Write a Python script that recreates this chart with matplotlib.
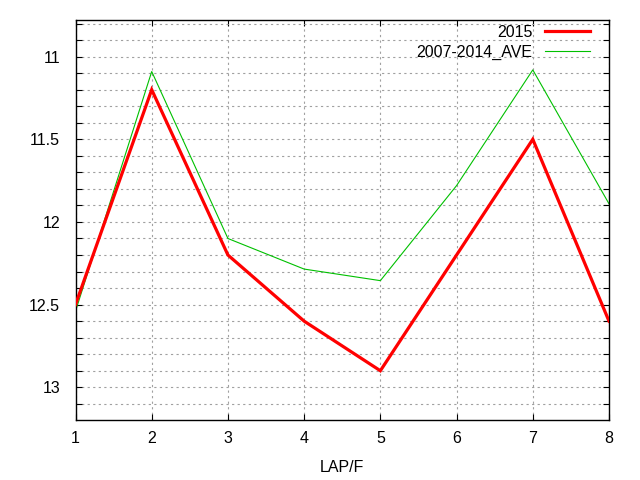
import matplotlib
matplotlib.use("Agg")
import matplotlib.pyplot as plt
from matplotlib.ticker import MultipleLocator, FormatStrFormatter

laps = [1, 2, 3, 4, 5, 6, 7, 8]
y2015 = [12.5, 11.2, 12.2, 12.6, 12.9, 12.2, 11.5, 12.6]
yave = [12.54, 11.09, 12.1, 12.285, 12.355, 11.78, 11.08, 11.89]
labels = ["2015", "2007-2014_AVE"]

plt.rcParams['font.family'] = ['Liberation Sans', 'DejaVu Sans']
FS = 11.5

fig = plt.figure(figsize=(6.4, 4.8), dpi=100)
ax = fig.add_axes([75.5/640, 1-419.5/480, (609-75.5)/640, (419.5-20.3)/480])

ax.plot(laps, y2015, color="#ff0000", lw=2.3, label=labels[0], solid_joinstyle="miter", zorder=3)
ax.plot(laps, yave, color="#00c000", lw=0.8, label=labels[1], zorder=2)

ax.set_xlim(1, 8)
ax.set_ylim(13.195, 10.78)
ax.xaxis.set_major_locator(MultipleLocator(1))
ax.yaxis.set_major_locator(MultipleLocator(0.5))
ax.yaxis.set_minor_locator(MultipleLocator(0.1))
ax.yaxis.set_major_formatter(FormatStrFormatter("%g"))

grid_style = dict(color="#a0a0a0", linestyle=(0, (2, 3)), linewidth=0.8)
ax.grid(True, which="major", axis="both", **grid_style)
ax.grid(True, which="minor", axis="y", **grid_style)
ax.set_axisbelow(True)

ax.tick_params(which="both", direction="in", top=True, right=True, length=4.5, width=0.8, labelsize=FS)
ax.tick_params(axis="y", pad=11)
ax.tick_params(axis="x", pad=8)
for s in ax.spines.values():
    s.set_linewidth(1.0)

ax.set_xlabel("LAP/F", fontsize=FS, labelpad=10)

ax.legend(loc="upper right", bbox_to_anchor=(590/640, 1-25/480), bbox_transform=fig.transFigure,
          frameon=False, markerfirst=False, fontsize=FS, handlelength=2.8, handletextpad=0.8,
          labelspacing=0.3, borderpad=0, borderaxespad=0)

fig.savefig("out.png", dpi=100)
